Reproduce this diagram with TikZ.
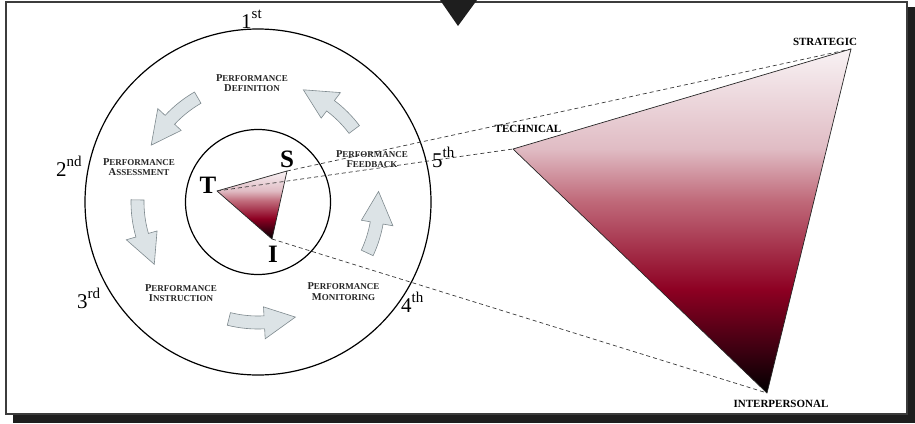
\documentclass[tikz,border=0pt]{standalone}
\usepackage{fontspec}
\setmainfont{Liberation Serif}

\definecolor{shadowc}{HTML}{1E1E1E}
\definecolor{framec}{HTML}{3C3C3C}
\definecolor{arrowfill}{HTML}{DCE3E6}
\definecolor{arrowline}{HTML}{7E898E}
\definecolor{dashc}{HTML}{3A3A3A}
\definecolor{triA}{HTML}{3A0010}
\definecolor{triB}{HTML}{8D0022}
\definecolor{triC}{HTML}{C06A7A}
\definecolor{triD}{HTML}{E0BCC4}
\definecolor{triE}{HTML}{F8F2F4}

% red-to-black gradient of the two triangles (path box = 25bp..75bp)
\pgfdeclareverticalshading{trishade}{100bp}{%
  color(0bp)=(black); color(25bp)=(black); color(31bp)=(triA);
  color(40bp)=(triB); color(53bp)=(triC); color(60.5bp)=(triD);
  color(75bp)=(triE); color(100bp)=(triE)}

\newcommand\capword[2]{{\fontsize{10.5}{10.6}\selectfont #1}#2}
\newcommand\ordinal[2]{#1\raisebox{0.43em}{\fontsize{15}{15}\selectfont #2}}

% curved block arrow around the ring: tail angle, head-base angle, tip angle
\newcommand\ringarrow[3]{%
  \draw[cyclearrow] (#1:127) arc[start angle=#1, end angle=#2, radius=127]
    -- (#2:137) -- (#3:121) -- (#2:105) -- (#2:114)
    arc[start angle=#2, end angle=#1, radius=114] -- cycle;}

\begin{document}
\begin{tikzpicture}[x=1pt, y=-1pt,
  ring/.style={circle, draw=black, line width=1.2pt, inner sep=0pt},
  cyclearrow/.style={fill=arrowfill, draw=arrowline, line width=0.6pt, line join=miter},
  triface/.style={shading=trishade, draw=black!85, line width=0.7pt, line join=round},
  dashline/.style={draw=dashc, dashed, dash pattern=on 4pt off 3pt, line width=0.7pt},
  phase/.style={font=\fontsize{9}{10.6}\selectfont\bfseries, align=center,
    inner sep=0pt, text=black!85},
  ordlabel/.style={font=\fontsize{21}{21}\selectfont, anchor=base west, inner sep=0pt},
  vertexletter/.style={font=\fontsize{25}{25}\selectfont\bfseries, anchor=base, inner sep=0pt},
  cornerlabel/.style={font=\fontsize{11}{11}\selectfont\bfseries, anchor=base, inner sep=0pt}]

\useasboundingbox (0,0) rectangle (915,423);

% frame with drop shadow and top marker
\fill[shadowc] (13,7) rectangle (915,423);
\draw[framec, line width=1.6pt, fill=white] (6,2) rectangle (907,414);
\fill[shadowc] (440,0) -- (477,0) -- (458,26) -- cycle;

% the two rings
\node[ring, minimum size=346] (outer) at (258,202) {};
\node[ring, minimum size=145] (inner) at (258,202) {};

% cycle arrows between the rings
\begin{scope}[shift={(258,202)}]
  \ringarrow{240}{223}{208}
  \ringarrow{181}{164}{149}
  \ringarrow{104}{87}{72}
  \ringarrow{25}{10}{-5}
  \ringarrow{-37}{-53}{-68}
\end{scope}

% triangle corners
\coordinate (t) at (217,191);
\coordinate (s) at (287,171);
\coordinate (i) at (272,239);
\coordinate (T) at (513,149);
\coordinate (S) at (851,49);
\coordinate (I) at (767,393);

% small and large triangles
\path[triface] (t) -- (s) -- (i) -- cycle;
\path[triface] (T) -- (S) -- (I) -- cycle;

% projection lines
\draw[dashline] (s) -- (S);
\draw[dashline] (t) -- (T);
\draw[dashline] (i) -- (I);

% vertex letters
\node[vertexletter] (lt) at (208,193) {T};
\node[vertexletter] (ls) at (287,167) {S};
\node[vertexletter] (li) at (273,262) {I};

% corner labels of the large triangle
\node[cornerlabel] (lS) at (825,45) {STRATEGIC};
\node[cornerlabel] (lT) at (528,132) {TECHNICAL};
\node[cornerlabel] (lI) at (781,407) {INTERPERSONAL};

% phase labels
\node[phase] (pdef) at (252,83.2) {\capword{P}{ERFORMANCE}\\\capword{D}{EFINITION}};
\node[phase] (pass) at (139,167) {\capword{P}{ERFORMANCE}\\\capword{A}{SSESSMENT}};
\node[phase] (pins) at (181,293) {\capword{P}{ERFORMANCE}\\\capword{I}{NSTRUCTION}};
\node[phase] (pmon) at (343.5,291.5) {\capword{P}{ERFORMANCE}\\\capword{M}{ONITORING}};
\node[phase] (pfee) at (372,159) {\capword{P}{ERFORMANCE}\\\capword{F}{EEDBACK}};

% ordinal markers on the outer ring
\node[ordlabel] (o1) at (241,28) {\ordinal{1}{st}};
\node[ordlabel] (o2) at (56,176) {\ordinal{2}{nd}};
\node[ordlabel] (o3) at (77,308) {\ordinal{3}{rd}};
\node[ordlabel] (o4) at (401,312) {\ordinal{4}{th}};
\node[ordlabel] (o5) at (432,167) {\ordinal{5}{th}};

\end{tikzpicture}
\end{document}
